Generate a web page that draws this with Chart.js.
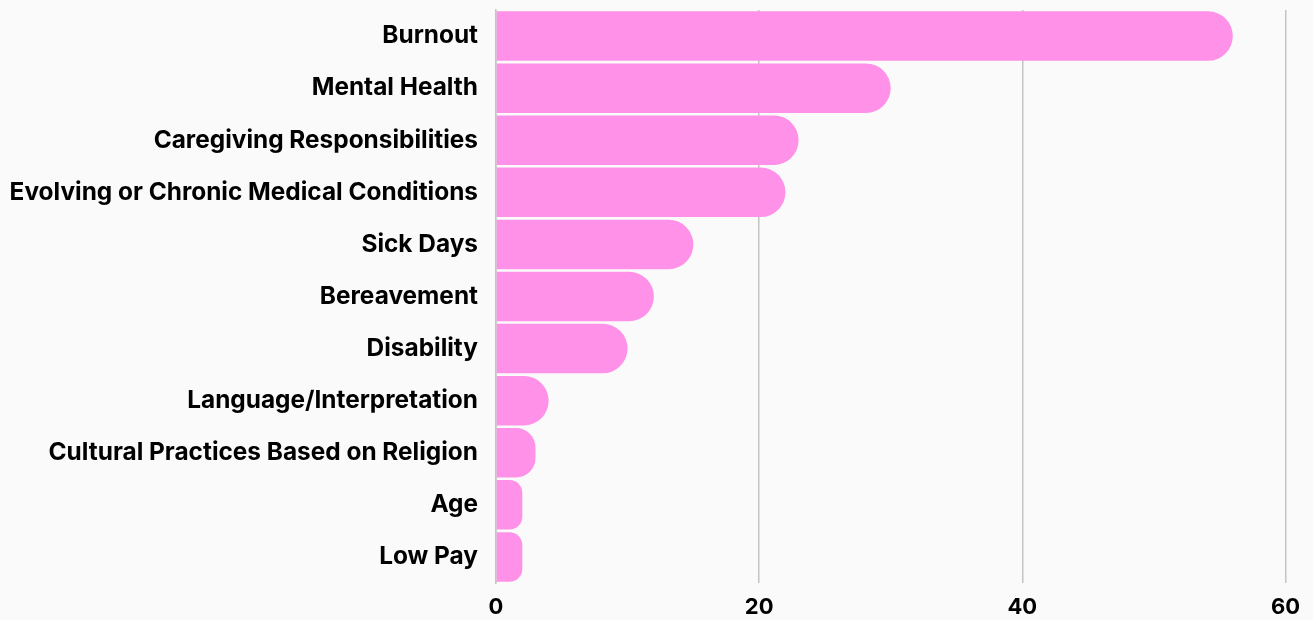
<!DOCTYPE html>
<html>
<head>
<meta charset="utf-8">
<script src="https://cdn.jsdelivr.net/npm/chart.js@4"></script>
<style>
  html, body { margin: 0; padding: 0; background: #FAFAFA; }
  #wrap { width: 1313px; height: 620px; position: relative; }
</style>
</head>
<body>
<div id="wrap"><canvas id="c"></canvas></div>
<script>
const categories = [
  "Burnout",
  "Mental Health",
  "Caregiving Responsibilities",
  "Evolving or Chronic Medical Conditions",
  "Sick Days",
  "Bereavement",
  "Disability",
  "Language/Interpretation",
  "Cultural Practices Based on Religion",
  "Age",
  "Low Pay"
];
const counts = [56, 30, 23, 22, 15, 12, 10, 4, 3, 2, 2];
const xTicks = [0, 20, 40, 60];

new Chart(document.getElementById('c'), {
  type: 'bar',
  data: {
    labels: categories,
    datasets: [{
      data: counts,
      backgroundColor: '#FF91E8',
      borderSkipped: 'start',
      borderRadius: 25,
      barPercentage: 0.95,
      categoryPercentage: 1.0
    }]
  },
  options: {
    indexAxis: 'y',
    responsive: true,
    maintainAspectRatio: false,
    animation: false,
    layout: { padding: { top: 10, right: 12, bottom: 2, left: 10 } },
    plugins: { legend: { display: false }, tooltip: { enabled: false } },
    scales: {
      x: {
        min: 0, max: 60,
        afterBuildTicks: (axis) => { axis.ticks = xTicks.map(v => ({ value: v })); },
        afterFit: (s) => { s.height = 35; },
        grid: { color: '#C4C4C4', lineWidth: 1.5, drawTicks: false },
        border: { display: false },
        ticks: { color: '#000', padding: 13, font: { family: 'Inter', size: 22, weight: '700', lineHeight: 1 } }
      },
      y: {
        afterFit: (s) => { s.paddingTop = 0; s.paddingBottom = 0; s.width = 486; },
        grid: { display: false, drawTicks: false },
        border: { display: true, color: '#C4C4C4', width: 1.5 },
        ticks: { color: '#000', padding: 18, font: { family: 'Inter', size: 24.4, weight: '700' } }
      }
    }
  }
});
</script>
</body>
</html>
